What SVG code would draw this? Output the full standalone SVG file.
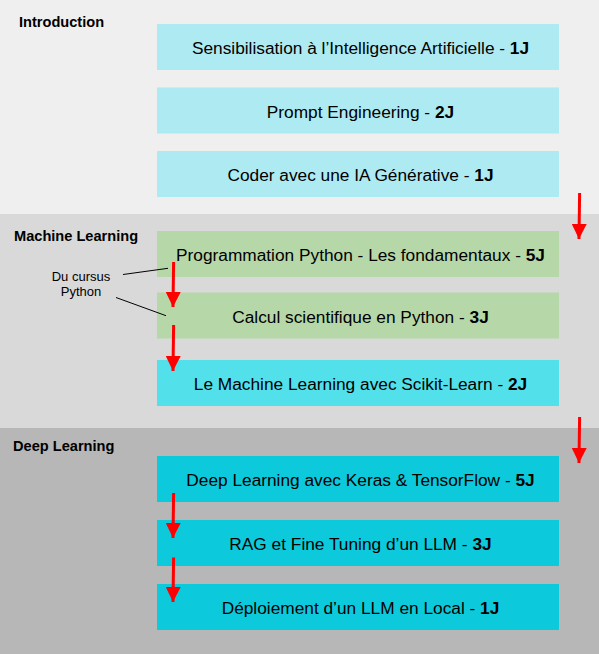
<svg xmlns="http://www.w3.org/2000/svg" width="599" height="654" viewBox="0 0 599 654">
<defs>
<style>
.lbl{font-family:"Liberation Sans",Arial,sans-serif;font-size:14.6px;font-weight:bold;fill:#000}
.t{font-family:"Liberation Sans",Arial,sans-serif;font-size:17.3px;fill:#000;text-anchor:middle}
.t tspan.b{font-weight:bold}
.note{font-family:"Liberation Sans",Arial,sans-serif;font-size:13px;fill:#000;text-anchor:middle}
.a{stroke:#ff0000;stroke-width:3;fill:none}
.c1{fill:#aeeaf2}
.c2{fill:#b6d7a8}
.c3{fill:#52e0eb}
.c4{fill:#0ccadb}
</style>
<marker id="ah" viewBox="0 0 10 10" refX="10" refY="5" markerWidth="5" markerHeight="5" markerUnits="strokeWidth" orient="auto">
<path d="M0,0 L10,5 L0,10 z" fill="#ff0000"/>
</marker>
</defs>
<g id="bands">
<rect x="0" y="0" width="599" height="214" fill="#efefef"/>
<rect x="0" y="214" width="599" height="214" fill="#d9d9d9"/>
<rect x="0" y="428" width="599" height="226" fill="#b7b7b7"/>
</g>
<g id="sec-intro"><text class="lbl" x="19" y="27">Introduction</text></g>
<g id="sec-ml"><text class="lbl" x="14" y="241">Machine Learning</text></g>
<g id="sec-dl"><text class="lbl" x="13" y="451">Deep Learning</text></g>
<g id="n1"><rect class="c1" x="157" y="24" width="402" height="46"/><text class="t" x="360.5" y="54.3">Sensibilisation à l’Intelligence Artificielle - <tspan class="b">1J</tspan></text></g>
<g id="n2"><rect class="c1" x="157" y="87.5" width="402" height="46"/><text class="t" x="360.5" y="117.5">Prompt Engineering - <tspan class="b">2J</tspan></text></g>
<g id="n3"><rect class="c1" x="157" y="151" width="402" height="46"/><text class="t" x="360.5" y="181">Coder avec une IA Générative - <tspan class="b">1J</tspan></text></g>
<g id="n4"><rect class="c2" x="157" y="231" width="402" height="46"/><text class="t" x="360.5" y="261">Programmation Python - Les fondamentaux - <tspan class="b">5J</tspan></text></g>
<g id="n5"><rect class="c2" x="157" y="292.5" width="402" height="46"/><text class="t" x="360.5" y="322.5">Calcul scientifique en Python - <tspan class="b">3J</tspan></text></g>
<g id="n6"><rect class="c3" x="157" y="360" width="402" height="46"/><text class="t" x="360.5" y="390">Le Machine Learning avec Scikit-Learn - <tspan class="b">2J</tspan></text></g>
<g id="n7"><rect class="c4" x="157" y="456" width="402" height="46"/><text class="t" x="360.5" y="486">Deep Learning avec Keras &amp; TensorFlow - <tspan class="b">5J</tspan></text></g>
<g id="n8"><rect class="c4" x="157" y="520" width="402" height="46"/><text class="t" x="360.5" y="550">RAG et Fine Tuning d’un LLM - <tspan class="b">3J</tspan></text></g>
<g id="n9"><rect class="c4" x="157" y="584" width="402" height="46"/><text class="t" x="360.5" y="613.5">Déploiement d’un LLM en Local - <tspan class="b">1J</tspan></text></g>
<g id="note"><text class="note" x="81" y="281">Du cursus</text><text class="note" x="81" y="296">Python</text></g>
<g id="connectors">
<line x1="123" y1="274.5" x2="168" y2="268.3" stroke="#000" stroke-width="1"/>
<line x1="116" y1="297.5" x2="166" y2="315.7" stroke="#000" stroke-width="1"/>
<line class="a" x1="579.6" y1="193" x2="579" y2="239" marker-end="url(#ah)"/>
<line class="a" x1="579.6" y1="417" x2="579" y2="463" marker-end="url(#ah)"/>
<line class="a" x1="173.6" y1="262" x2="173" y2="307" marker-end="url(#ah)"/>
<line class="a" x1="173.6" y1="325" x2="173" y2="371" marker-end="url(#ah)"/>
<line class="a" x1="173.6" y1="493" x2="173" y2="538" marker-end="url(#ah)"/>
<line class="a" x1="173.6" y1="557.5" x2="173" y2="602" marker-end="url(#ah)"/>
</g>
</svg>
